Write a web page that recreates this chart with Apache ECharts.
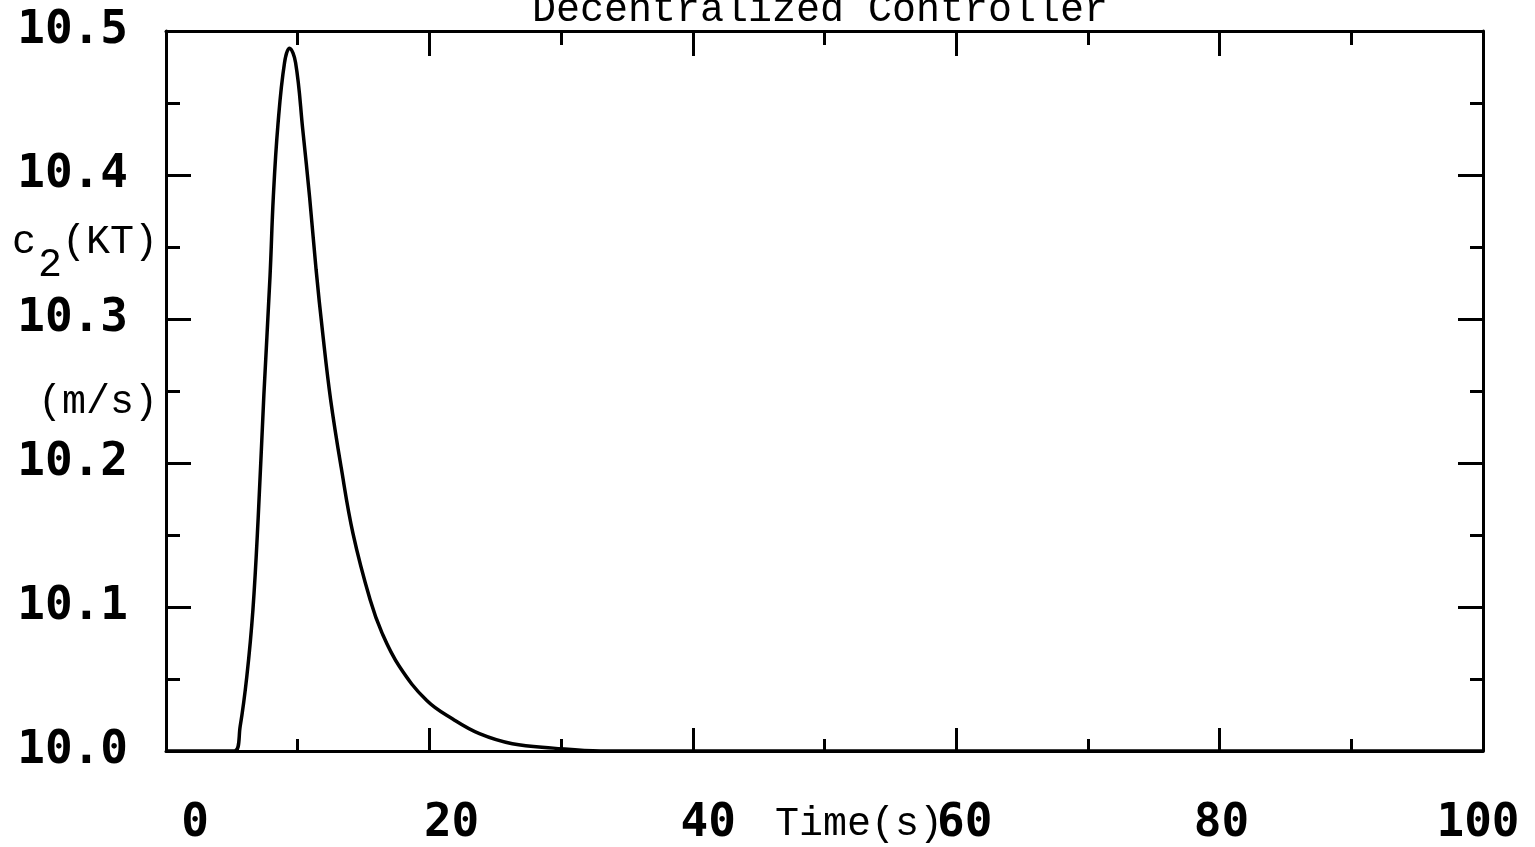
<!DOCTYPE html>
<html>
<head>
<meta charset="utf-8">
<script src="https://cdn.jsdelivr.net/npm/echarts@6/dist/echarts.min.js"></script>
<style>
html,body{margin:0;padding:0;background:#fff;}
#chart{width:1535px;height:847px;}
</style>
</head>
<body>
<div id="chart"></div>
<script>
// Data
const timeS = [0, 5.2, 5.63, 6.14, 6.6, 7.0, 7.43, 7.9, 8.15, 8.5, 9.0, 9.38, 9.84, 10.39, 10.9, 11.4, 11.9, 12.5, 13.3, 14.2, 15.5, 16.4, 17.7, 19.8, 21.8, 23.8, 26.3, 29.4, 33, 100];
const c2KT = [10.0, 10.0, 10.017, 10.052, 10.098, 10.162, 10.247, 10.330, 10.385, 10.435, 10.478, 10.488, 10.478, 10.431, 10.385, 10.334, 10.29, 10.244, 10.197, 10.151, 10.105, 10.082, 10.059, 10.035, 10.022, 10.012, 10.005, 10.002, 10.0, 10.0];
const titleText = 'Decentralized Controller';
const xName = 'Time(s)';
const yNameMain = 'c';
const yNameSub = '2';
const yNameRest = '(KT)';
const yUnit = '(m/s)';

const chart = echarts.init(document.getElementById('chart'), null, {renderer: 'canvas'});
const tickFont = {fontFamily: 'DejaVu Sans Mono', fontWeight: 'bold', fontSize: 46, color: '#000'};
const txtFont = {fontFamily: 'Liberation Mono', fontSize: 40, fill: '#000'};
const lineBlack = {color: '#000', width: 3};

const option = {
  backgroundColor: '#fff',
  animation: false,
  title: {
    text: titleText, left: 527, top: -15,
    textStyle: {fontFamily: 'Liberation Mono', fontSize: 40, fontWeight: 'normal', color: '#000'}
  },
  grid: [
    {left: 166, right: 52, top: 31, bottom: 96},
    {left: 195, right: 57, top: 31, bottom: 96}
  ],
  xAxis: [
    {
      gridIndex: 0, type: 'value', min: 0, max: 100, interval: 20, position: 'bottom',
      axisLine: {show: true, onZero: false, lineStyle: lineBlack},
      axisTick: {show: true, inside: true, length: 23, lineStyle: {color: '#000', width: 3}},
      minorTick: {show: true, splitNumber: 2, length: 12, lineStyle: {color: '#000', width: 3}},
      axisLabel: {show: false}, splitLine: {show: false}
    },
    {
      gridIndex: 0, type: 'value', min: 0, max: 100, interval: 20, position: 'top',
      axisLine: {show: true, onZero: false, lineStyle: lineBlack},
      axisTick: {show: true, inside: true, length: 25, lineStyle: {color: '#000', width: 3}},
      minorTick: {show: true, splitNumber: 2, length: 14, lineStyle: {color: '#000', width: 3}},
      axisLabel: {show: false}, splitLine: {show: false}
    },
    {
      gridIndex: 1, type: 'value', min: 0, max: 100, interval: 20, position: 'bottom',
      axisLine: {show: false}, axisTick: {show: false}, splitLine: {show: false},
      axisLabel: Object.assign({show: true, margin: 50, showMinLabel: true, showMaxLabel: true}, tickFont)
    }
  ],
  yAxis: [
    {
      gridIndex: 0, type: 'value', min: 10, max: 10.5, interval: 0.1, position: 'left',
      axisLine: {show: true, onZero: false, lineStyle: lineBlack},
      axisTick: {show: true, inside: true, length: 25, lineStyle: {color: '#000', width: 3}},
      minorTick: {show: true, splitNumber: 2, length: 14, lineStyle: {color: '#000', width: 3}},
      axisLabel: Object.assign({show: true, margin: 38, formatter: v => Number(v).toFixed(1)}, tickFont),
      splitLine: {show: false}
    },
    {
      gridIndex: 0, type: 'value', min: 10, max: 10.5, interval: 0.1, position: 'right',
      axisLine: {show: true, onZero: false, lineStyle: lineBlack},
      axisTick: {show: true, inside: true, length: 25, lineStyle: {color: '#000', width: 3}},
      minorTick: {show: true, splitNumber: 2, length: 13, lineStyle: {color: '#000', width: 3}},
      axisLabel: {show: false}, splitLine: {show: false}
    },
    {
      gridIndex: 1, type: 'value', min: 10, max: 10.5, show: false
    }
  ],
  graphic: [
    {type: 'text', left: 12, top: 222, style: Object.assign({text: yNameMain}, txtFont)},
    {type: 'text', left: 38, top: 245, style: Object.assign({text: yNameSub}, txtFont)},
    {type: 'text', left: 62, top: 222, style: Object.assign({text: yNameRest}, txtFont)},
    {type: 'text', left: 38, top: 382, style: Object.assign({text: yUnit}, txtFont)},
    {type: 'text', left: 775, top: 804, style: Object.assign({text: xName}, txtFont)}
  ],
  series: [
    {
      type: 'line', xAxisIndex: 0, yAxisIndex: 0,
      data: timeS.map((t, i) => [t, c2KT[i]]),
      showSymbol: false, smooth: 0.4,
      lineStyle: {color: '#000', width: 3.5},
      clip: true, silent: true
    }
  ]
};
chart.setOption(option);
</script>
</body>
</html>
